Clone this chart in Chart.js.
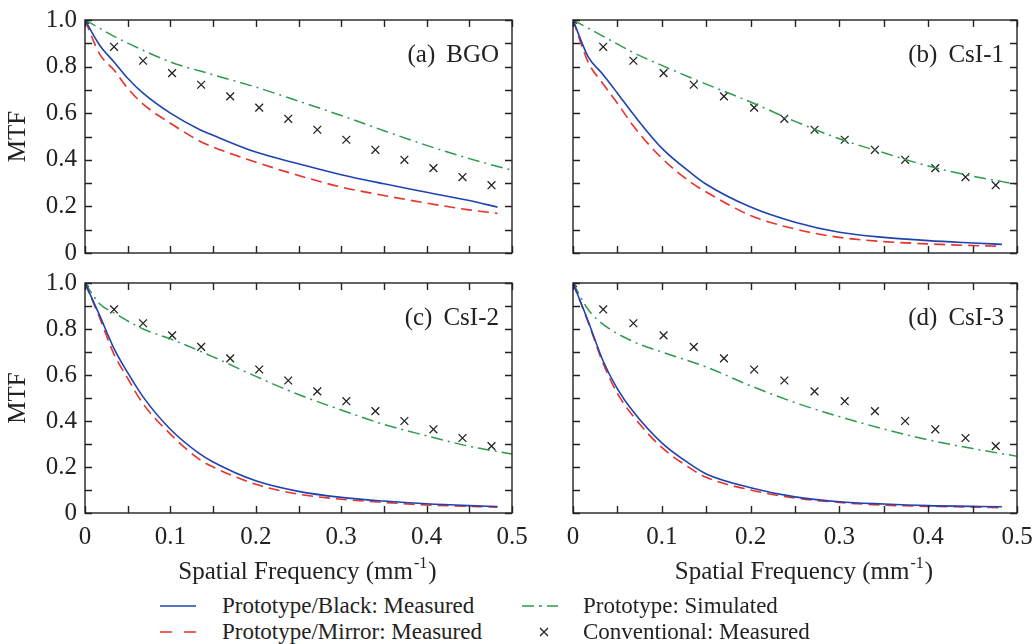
<!DOCTYPE html>
<html>
<head>
<meta charset="utf-8">
<script src="https://cdn.jsdelivr.net/npm/chart.js@4.4.1/dist/chart.umd.min.js"></script>
<style>
  body { margin: 0; background: #fff; width: 1034px; height: 644px; position: relative; overflow: hidden;
         font-family: "Liberation Serif", "Times New Roman", serif; color: #222; }
  .panel { position: absolute; }
  .key { position: absolute; height: 26px; line-height: 26px; font-size: 23px; white-space: nowrap; }
  .swatch { position: absolute; }
</style>
</head>
<body>
<canvas id="panelA" class="panel" width="530" height="262" style="left:0;top:0"></canvas>
<canvas id="panelB" class="panel" width="514" height="262" style="left:520px;top:0"></canvas>
<canvas id="panelC" class="panel" width="530" height="328" style="left:0;top:262px"></canvas>
<canvas id="panelD" class="panel" width="514" height="328" style="left:520px;top:262px"></canvas>

<div id="legend">
  <svg class="swatch" style="left:158px;top:598px" width="40" height="16"><line x1="2" y1="8" x2="38" y2="8" stroke="#1f43b0" stroke-width="1.6"/></svg>
  <span class="key" style="left:222px;top:593px">Prototype/Black: Measured</span>
  <svg class="swatch" style="left:158px;top:624px" width="40" height="16"><line x1="2" y1="8" x2="38" y2="8" stroke="#e8322a" stroke-width="1.6" stroke-dasharray="12 12"/></svg>
  <span class="key" style="left:222px;top:619px">Prototype/Mirror: Measured</span>
  <svg class="swatch" style="left:520px;top:598px" width="40" height="16"><line x1="2" y1="8" x2="38" y2="8" stroke="#2e9a4e" stroke-width="1.6" stroke-dasharray="12 5 3 5"/></svg>
  <span class="key" style="left:583px;top:593px">Prototype: Simulated</span>
  <svg class="swatch" style="left:536px;top:624px" width="16" height="16"><path d="M4 4 L12 12 M12 4 L4 12" stroke="#222" stroke-width="1.3"/></svg>
  <span class="key" style="left:583px;top:619px">Conventional: Measured</span>
</div>

<script>
/* ================= DATA ================= */
const measFreq = [0, 0.017, 0.034, 0.05, 0.068, 0.1, 0.134, 0.15, 0.2, 0.25, 0.3, 0.35, 0.4, 0.45, 0.483];
const simFreq = [0, 0.017, 0.034, 0.068, 0.1, 0.15, 0.2, 0.25, 0.3, 0.35, 0.4, 0.45, 0.5];
const convFreq = [0, 0.034, 0.068, 0.102, 0.136, 0.17, 0.204, 0.238, 0.272, 0.306, 0.34, 0.374, 0.408, 0.442, 0.476];

const convMeasured = [1.0, 0.885, 0.825, 0.772, 0.722, 0.672, 0.624, 0.576, 0.529, 0.486, 0.443, 0.400, 0.364, 0.326, 0.291];

// (a) BGO
const blackA = [1.0, 0.893, 0.82, 0.75, 0.686, 0.60, 0.53, 0.505, 0.433, 0.383, 0.336, 0.297, 0.261, 0.225, 0.197];
const mirrorA = [1.0, 0.855, 0.785, 0.707, 0.639, 0.557, 0.481, 0.455, 0.39, 0.333, 0.283, 0.247, 0.214, 0.185, 0.17];
const simA = [1.0, 0.965, 0.93, 0.87, 0.82, 0.765, 0.712, 0.652, 0.59, 0.525, 0.462, 0.405, 0.355];

// (b) CsI-1
const blackB = [1.0, 0.843, 0.765, 0.686, 0.595, 0.45, 0.34, 0.295, 0.197, 0.132, 0.089, 0.067, 0.053, 0.043, 0.037];
const mirrorB = [1.0, 0.82, 0.725, 0.643, 0.545, 0.407, 0.30, 0.262, 0.161, 0.103, 0.067, 0.049, 0.039, 0.032, 0.029];
const simB = [1.0, 0.965, 0.93, 0.86, 0.805, 0.725, 0.648, 0.565, 0.49, 0.43, 0.373, 0.33, 0.295];

// (c) CsI-2
const blackC = [1.0, 0.86, 0.715, 0.61, 0.505, 0.364, 0.258, 0.222, 0.14, 0.094, 0.068, 0.052, 0.04, 0.032, 0.028];
const mirrorC = [1.0, 0.85, 0.69, 0.585, 0.475, 0.343, 0.233, 0.20, 0.125, 0.082, 0.06, 0.046, 0.035, 0.029, 0.025];
const simC = [1.0, 0.91, 0.87, 0.80, 0.757, 0.679, 0.594, 0.515, 0.448, 0.385, 0.336, 0.29, 0.256];

// (d) CsI-3
const blackD = [1.0, 0.835, 0.66, 0.54, 0.44, 0.305, 0.207, 0.17, 0.11, 0.07, 0.049, 0.039, 0.032, 0.029, 0.027];
const mirrorD = [1.0, 0.83, 0.65, 0.52, 0.42, 0.285, 0.19, 0.155, 0.10, 0.065, 0.046, 0.034, 0.029, 0.026, 0.023];
const simD = [1.0, 0.885, 0.82, 0.745, 0.70, 0.635, 0.553, 0.48, 0.419, 0.365, 0.318, 0.28, 0.247];

const panelTags = ["(a)", "(b)", "(c)", "(d)"];
const panelNames = ["BGO", "CsI-1", "CsI-2", "CsI-3"];

const xTickValues = [0, 0.1, 0.2, 0.3, 0.4, 0.5];
const xTickLabels = ["0", "0.1", "0.2", "0.3", "0.4", "0.5"];
const yTickValues = [0, 0.2, 0.4, 0.6, 0.8, 1.0];
const yTickLabels = ["0", "0.2", "0.4", "0.6", "0.8", "1.0"];
const xMarkValues = [0, 0.05, 0.1, 0.15, 0.2, 0.25, 0.3, 0.35, 0.4, 0.45, 0.5];
const yMarkValues = [0, 0.1, 0.2, 0.3, 0.4, 0.5, 0.6, 0.7, 0.8, 0.9, 1.0];

/* ================= STYLE ================= */
const SERIF = "'Liberation Serif', 'Times New Roman', serif";
const BLUE = "#1f43b0";
const RED = "#e8322a";
const GREEN = "#2e9a4e";
const INK = "#222";
const FONT_PX = 25;

const toPoints = (xs, ys) => xs.map((x, i) => ({ x, y: ys[i] }));

// box, inward ticks on all four sides, panel label, x title with superscript
const framePlugin = {
  id: "panelFrame",
  afterDatasetsDraw(chart, args, opts) {
    const { ctx, chartArea: a, scales: { x, y } } = chart;
    ctx.save();
    ctx.strokeStyle = INK;
    ctx.lineWidth = 1.4;
    ctx.strokeRect(a.left, a.top, a.right - a.left, a.bottom - a.top);
    ctx.beginPath();
    xMarkValues.forEach(v => {
      const px = Math.round(x.getPixelForValue(v)) + 0.5;
      ctx.moveTo(px, a.bottom); ctx.lineTo(px, a.bottom - 7);
      ctx.moveTo(px, a.top); ctx.lineTo(px, a.top + 7);
    });
    yMarkValues.forEach(v => {
      const py = Math.round(y.getPixelForValue(v)) + 0.5;
      ctx.moveTo(a.left, py); ctx.lineTo(a.left + 7, py);
      ctx.moveTo(a.right, py); ctx.lineTo(a.right - 7, py);
    });
    ctx.stroke();

    ctx.fillStyle = INK;
    ctx.textBaseline = "alphabetic";
    ctx.font = FONT_PX + "px " + SERIF;
    ctx.textAlign = "right";
    const nameW = ctx.measureText(opts.name).width;
    ctx.fillText(opts.name, a.right - 13, a.top + 42);
    ctx.fillText(opts.tag, a.right - 13 - nameW - 11, a.top + 42);

    if (opts.showX) {
      const main = "Spatial Frequency (mm";
      ctx.font = FONT_PX + "px " + SERIF;
      const w1 = ctx.measureText(main).width;
      const w3 = ctx.measureText(")").width;
      ctx.font = "16px " + SERIF;
      const w2 = ctx.measureText("-1").width;
      const sx = (a.left + a.right) / 2 + 8 - (w1 + w2 + w3) / 2;
      const base = a.bottom + 66;
      ctx.textAlign = "left";
      ctx.font = FONT_PX + "px " + SERIF;
      ctx.fillText(main, sx, base);
      ctx.font = "16px " + SERIF;
      ctx.fillText("-1", sx + w1 + 1, base - 11);
      ctx.font = FONT_PX + "px " + SERIF;
      ctx.fillText(")", sx + w1 + w2 + 2, base);
    }
    ctx.restore();
  }
};

function makePanel(id, idx, black, mirror, sim, showX, showY) {
  const leftW = showY ? 85 : 53;
  const top = showX ? 21 : 20;
  const rightPad = showY ? 18 : 17;
  return new Chart(document.getElementById(id), {
    type: "line",
    data: {
      datasets: [
        { label: "Prototype/Black: Measured", data: toPoints(measFreq, black), borderColor: BLUE,
          borderWidth: 1.6, pointRadius: 0, cubicInterpolationMode: "monotone" },
        { label: "Prototype/Mirror: Measured", data: toPoints(measFreq, mirror), borderColor: RED,
          borderWidth: 1.6, borderDash: [11, 6], pointRadius: 0, cubicInterpolationMode: "monotone" },
        { label: "Prototype: Simulated", data: toPoints(simFreq, sim), borderColor: GREEN,
          borderWidth: 1.5, borderDash: [12, 5, 2, 5], pointRadius: 0, cubicInterpolationMode: "monotone" },
        { label: "Conventional: Measured", data: toPoints(convFreq, convMeasured), showLine: false,
          pointStyle: "crossRot", pointRadius: 5.5, borderColor: INK, borderWidth: 1.3 }
      ]
    },
    options: {
      responsive: false,
      animation: false,
      layout: { padding: { top: top, right: rightPad, bottom: showX ? 0 : 9, left: 0 } },
      plugins: {
        legend: { display: false },
        tooltip: { enabled: false },
        panelFrame: { tag: panelTags[idx], name: panelNames[idx], showX }
      },
      scales: {
        x: {
          type: "linear", min: 0, max: 0.5,
          grid: { display: false, drawTicks: false },
          border: { display: false },
          ticks: { display: showX, color: INK, padding: 9, font: { family: SERIF, size: FONT_PX },
                   callback: v => xTickLabels[xTickValues.indexOf(v)] },
          afterBuildTicks: s => { s.ticks = xTickValues.map(v => ({ value: v })); },
          afterFit: s => { s.height = showX ? 77 : 0; s.paddingLeft = 0; s.paddingRight = 0; }
        },
        y: {
          type: "linear", min: 0, max: 1,
          grid: { display: false, drawTicks: false },
          border: { display: false },
          title: { display: showY, text: "MTF", color: INK, font: { family: SERIF, size: FONT_PX }, padding: { top: 3, bottom: 0 } },
          ticks: { display: showY, color: INK, padding: 8, font: { family: SERIF, size: FONT_PX },
                   callback: v => yTickLabels[yTickValues.indexOf(v)] },
          afterBuildTicks: s => { s.ticks = yTickValues.map(v => ({ value: v })); },
          afterFit: s => { s.width = leftW; s.paddingTop = 0; s.paddingBottom = 0; }
        }
      }
    },
    plugins: [framePlugin]
  });
}

/* ================= INIT ================= */
makePanel("panelA", 0, blackA, mirrorA, simA, false, true);
makePanel("panelB", 1, blackB, mirrorB, simB, false, false);
makePanel("panelC", 2, blackC, mirrorC, simC, true, true);
makePanel("panelD", 3, blackD, mirrorD, simD, true, false);
</script>
</body>
</html>
